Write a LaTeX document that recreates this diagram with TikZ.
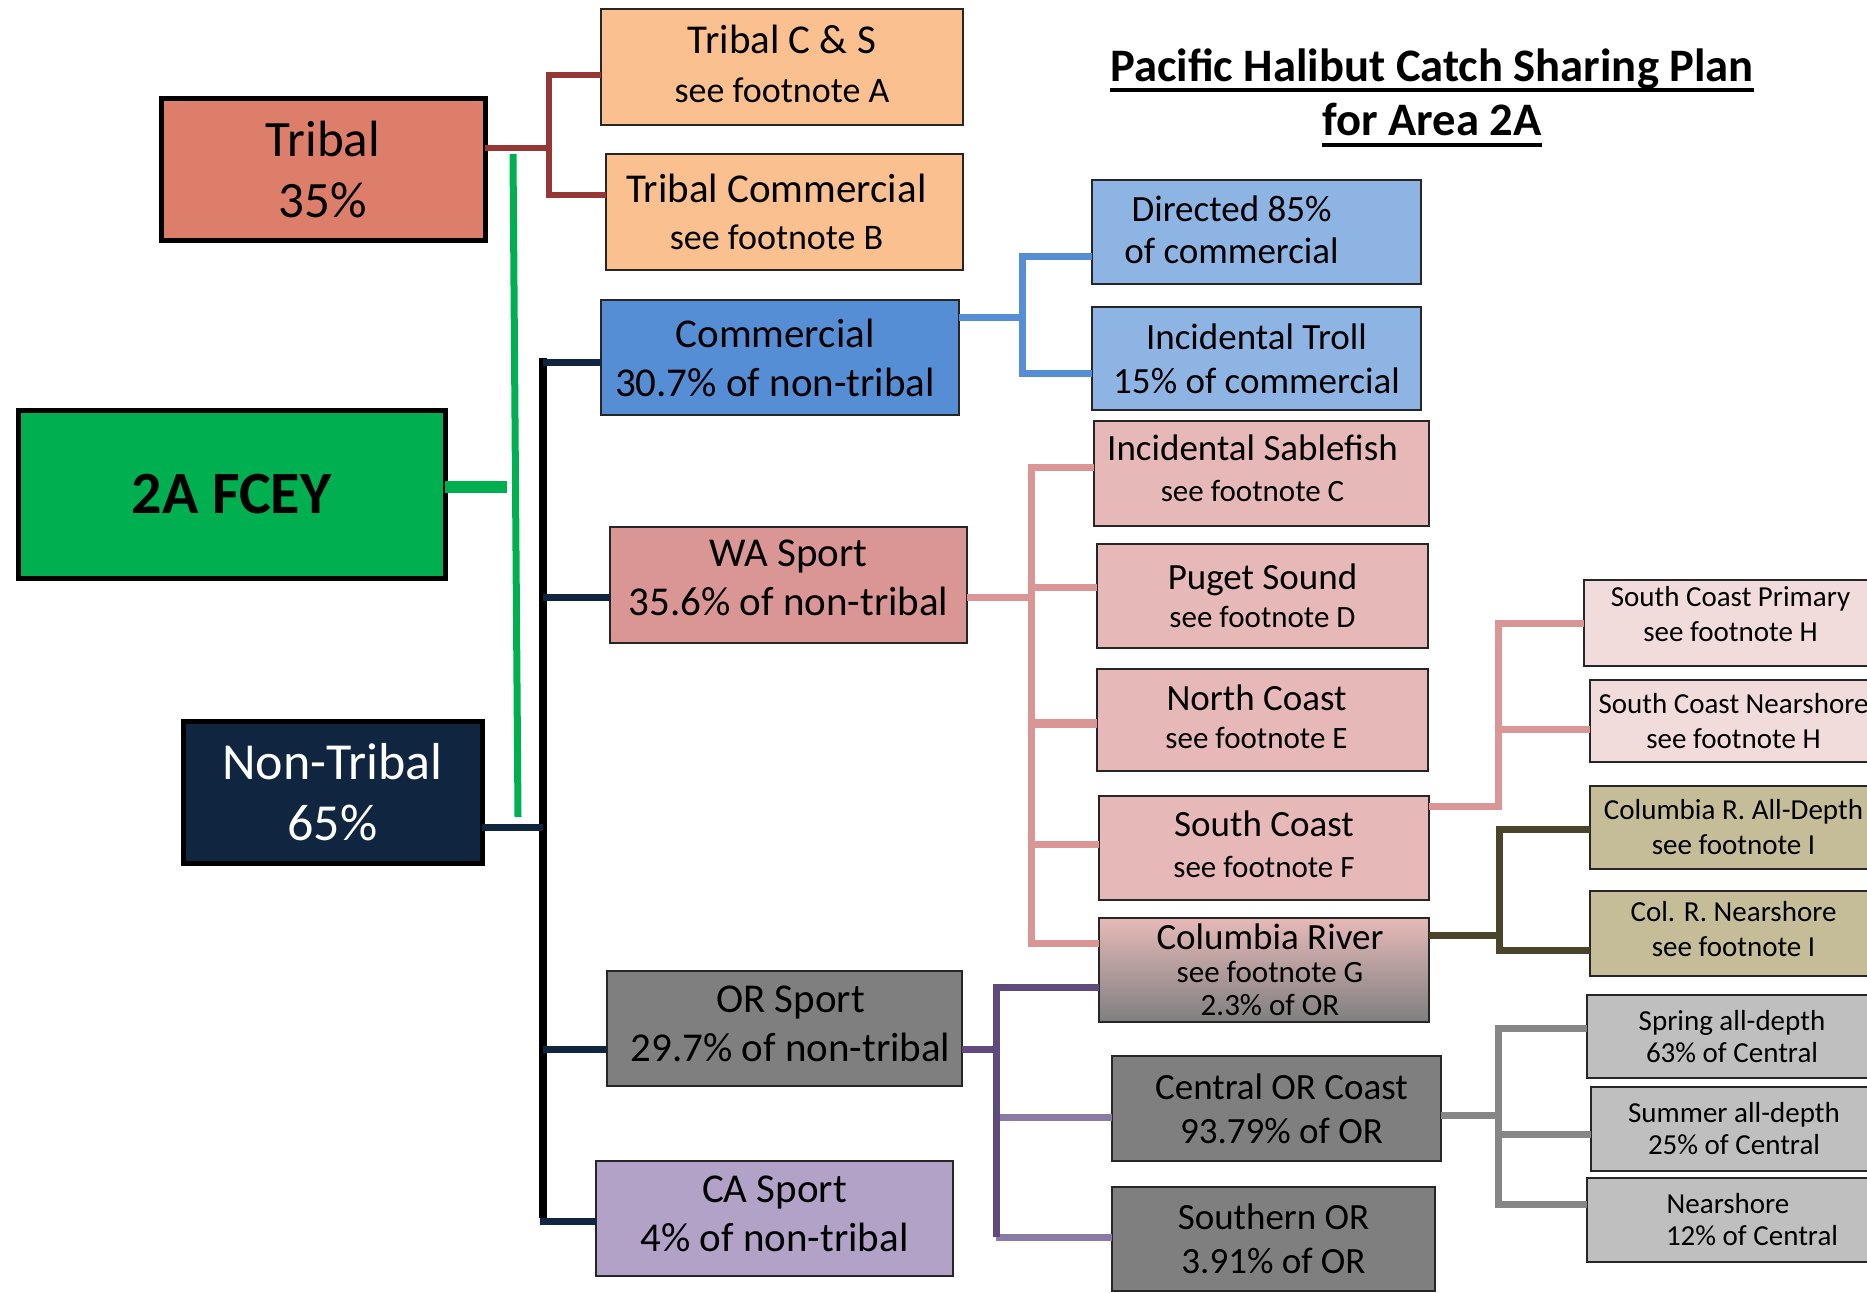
\documentclass[tikz,border=0pt]{standalone}
\usepackage{fontspec}
\setmainfont{Carlito}
\definecolor{tribalc}{HTML}{DC7E6A}
\definecolor{orangel}{HTML}{FAC090}
\definecolor{fceyg}{HTML}{00B050}
\definecolor{navy}{HTML}{10253F}
\definecolor{bluem}{HTML}{558ED5}
\definecolor{bluel}{HTML}{8EB4E3}
\definecolor{pinkm}{HTML}{D99694}
\definecolor{pinkl}{HTML}{E6B9B8}
\definecolor{pinkxl}{HTML}{F2DCDB}
\definecolor{graym}{HTML}{7F7F7F}
\definecolor{grayc}{HTML}{868686}
\definecolor{grayl}{HTML}{BFBFBF}
\definecolor{lav}{HTML}{B3A2C7}
\definecolor{lavl}{HTML}{CCC1DA}
\definecolor{olivel}{HTML}{C4BD97}
\definecolor{olived}{HTML}{4A452A}
\definecolor{darkred}{HTML}{953735}
\definecolor{purpled}{HTML}{604A7B}
\definecolor{purplem}{HTML}{8B7AA5}
\definecolor{boxline}{HTML}{262626}
\newcommand\fsz[2]{\fontsize{#1}{#2}\selectfont}
\newcommand\up[1]{\rule[-#1pt]{0pt}{#1pt}}
\newcommand\hbnode[7]{\node[#1, minimum width={(#5-#3)*0.5pt}, minimum height={(#6-#4)*0.5pt}] (#2) at ({(#3+#5)/2},{(#4+#6)/2}) {#7};}
\begin{document}
\begin{tikzpicture}[x=0.5pt,y=-0.5pt,
  box/.style={draw=boxline,line width=1pt,inner sep=0pt,outer sep=0pt,align=center,text=black},
  thickbox/.style={draw=black,line width=2.5pt,inner sep=0pt,outer sep=0pt,align=center},
  fA/.style={font=\fsz{20.5pt}{24.5pt}},
  fB/.style={font=\fsz{18.5pt}{21pt}},
  fC/.style={font=\fsz{14.5pt}{17.5pt}},
  conn/.style={line width=3.5pt},
  titlef/.style={font=\bfseries\fsz{23.3pt}{28pt},inner sep=0pt,anchor=base}]
\useasboundingbox (0,0) rectangle (1867,1292);

% ---- title
\node[titlef] (title1) at (1432,81) {Pacific Halibut Catch Sharing Plan};
\node[titlef] (title2) at (1432,135) {for Area 2A};
\draw[line width=1.7pt] ([yshift=-4.5pt]title1.base west) -- ([yshift=-4.5pt]title1.base east);
\draw[line width=1.7pt] ([yshift=-5pt]title2.base west) -- ([yshift=-5pt]title2.base east);

% ---- level 1 and 2
\hbnode{thickbox,fill=tribalc,font=\fsz{25.5pt}{30.5pt}}{tribal}{161}{98}{485}{240}{Tribal\\35\%}
\hbnode{thickbox,fill=fceyg,font=\bfseries\fsz{30pt}{36pt}}{fcey}{18}{410}{445}{578}{2A FCEY}
\hbnode{thickbox,fill=navy,text=white,font=\fsz{26pt}{30.5pt}}{nontribal}{183}{721}{482}{863}{Non-Tribal\\65\%}

\hbnode{box,fill=orangel,fA}{tcs}{601}{9}{963}{125}{Tribal C \& S\\{\fsz{18pt}{24.5pt}see footnote A}\up{3.5}}
\hbnode{box,fill=orangel,font=\fsz{20.5pt}{23.5pt}}{tcom}{606}{154}{963}{270}{Tribal Commercial\hspace*{8pt}\\{\fsz{18pt}{23.5pt}see footnote B}\hspace*{8pt}}
\hbnode{box,fill=bluem,fA}{comm}{601}{300}{959}{415}{Commercial\hspace*{5pt}\\30.7\% of non-tribal\hspace*{5pt}}
\hbnode{box,fill=pinkm,fA}{wasport}{610}{527}{967}{643}{WA Sport\\35.6\% of non-tribal\up{7}}
\hbnode{box,fill=graym,fA}{orsport}{607}{971}{962}{1086}{\hspace*{6pt}OR Sport\\\hspace*{6pt}29.7\% of non-tribal\up{5}}
\hbnode{box,fill=lav,fA}{casport}{596}{1161}{953}{1276}{CA Sport\\4\% of non-tribal\up{5}}

% ---- commercial children
\hbnode{box,fill=bluel,fB}{dir}{1092}{180}{1421}{284}{Directed 85\%\hspace*{25pt}\\of commercial\hspace*{25pt}\up{2}}
\hbnode{box,fill=bluel,font=\fsz{18.5pt}{22pt}}{troll}{1092}{307}{1421}{410}{Incidental Troll\\15\% of commercial}

% ---- WA children
\hbnode{box,fill=pinkl,font=\fsz{18.5pt}{20.5pt}}{sable}{1094}{421}{1429}{526}{Incidental Sablefish\hspace*{9pt}\\{\fsz{15.5pt}{20.5pt}see footnote C}\hspace*{9pt}\up{5}}
\hbnode{box,fill=pinkl,font=\fsz{18.5pt}{19pt}}{puget}{1097}{544}{1428}{648}{Puget Sound\\{\fsz{15.5pt}{19pt}see footnote D}}
\hbnode{box,fill=pinkl,font=\fsz{18.5pt}{19pt}}{ncoast}{1097}{669}{1428}{771}{North Coast\hspace*{6pt}\\{\fsz{15.5pt}{19pt}see footnote E}\hspace*{6pt}\up{3.5}}
\hbnode{box,fill=pinkl,font=\fsz{18.5pt}{20.5pt}}{scoast}{1099}{796}{1429}{900}{South Coast\\{\fsz{15.5pt}{20.5pt}see footnote F}\up{3.5}}
\hbnode{box,draw=boxline,top color=pinkl,middle color=lavl,bottom color=graym,font=\fsz{18.5pt}{16.5pt}}{colr}{1099}{918}{1429}{1022}{\hspace*{6pt}Columbia River\\\hspace*{6pt}{\fsz{15.5pt}{16.5pt}see footnote G}\\\hspace*{6pt}{\fsz{15.5pt}{16.5pt}2.3\% of OR}}

% ---- OR children
\hbnode{box,fill=graym,font=\fsz{18.5pt}{22pt}}{central}{1112}{1056}{1441}{1161}{\hspace*{5pt}Central OR Coast\\\hspace*{5pt}93.79\% of OR}
\hbnode{box,fill=graym,font=\fsz{18.5pt}{22pt}}{southern}{1112}{1187}{1435}{1291}{Southern OR\\3.91\% of OR}

% ---- right column
\hbnode{box,fill=pinkxl,fC}{scp}{1584}{580}{1877}{666}{South Coast Primary\\see footnote H\up{9.5}}
\hbnode{box,fill=pinkxl,fC}{scn}{1590}{680}{1877}{762}{South Coast Nearshore\\see footnote H}
\hbnode{box,fill=olivel,fC}{crad}{1590}{786}{1877}{869}{Columbia R. All-Depth\\see footnote I}
\hbnode{box,fill=olivel,fC}{crns}{1590}{891}{1877}{976}{Col. R. Nearshore\\see footnote I\up{5}}
\hbnode{box,fill=grayl,font=\fsz{14.5pt}{16pt}}{spring}{1587}{995}{1877}{1078}{Spring all-depth\\63\% of Central}
\hbnode{box,fill=grayl,font=\fsz{14.5pt}{16pt}}{summer}{1591}{1087}{1877}{1171}{Summer all-depth\\25\% of Central}
\hbnode{box,fill=grayl,font=\fsz{14.5pt}{16pt}}{nearshore}{1587}{1178}{1877}{1262}{Nearshore\hspace*{4pt}\\\hspace*{20pt}12\% of Central}

% ---- junction coordinates
\coordinate (tj) at (549,148); \coordinate (tA) at (549,75); \coordinate (tB) at (549,195);
\coordinate (gtop) at (513,154); \coordinate (gbot) at (518,817); \coordinate (gmid) at (507,487);
\coordinate (nb1) at (543,358); \coordinate (nb2) at (543,1218);
\coordinate (nc) at (543,362); \coordinate (nw) at (543,597); \coordinate (nj) at (543,827);
\coordinate (no) at (543,1049); \coordinate (nca) at (540,1221);
\coordinate (bj) at (1022,317); \coordinate (bA) at (1022,256); \coordinate (bB) at (1022,373);
\coordinate (pj) at (1031,597); \coordinate (pA) at (1031,467); \coordinate (pP) at (1031,587);
\coordinate (pN) at (1031,723); \coordinate (pS) at (1031,844); \coordinate (pE) at (1031,943);
\coordinate (sj) at (1498,806); \coordinate (sA) at (1498,623); \coordinate (sB) at (1498,729);
\coordinate (oj) at (1499,935); \coordinate (oA) at (1499,829); \coordinate (oB) at (1499,950);
\coordinate (uj) at (996,1049); \coordinate (uA) at (996,987); \coordinate (uC) at (996,1117); \coordinate (uB) at (996,1237);
\coordinate (gj) at (1498,1115); \coordinate (gA) at (1498,1028); \coordinate (gS) at (1498,1134); \coordinate (gB) at (1498,1204);

% ---- connectors
\draw[line width=3pt,darkred] (tribal.east |- tj) -- (tj);
\draw[line width=3pt,darkred] (tcs.west |- tA) -- (tA) -- (tB) -- (tcom.west |- tB);

\draw[line width=6pt,fceyg] (fcey.east |- gmid) -- (gmid);
\draw[conn,fceyg] (gtop) -- (gbot);

\draw[line width=4pt,black] (nb1) -- (nb2);
\draw[conn,navy] (nc) -- (comm.west |- nc);
\draw[conn,navy] (nw) -- (wasport.west |- nw);
\draw[conn,navy] (nontribal.east |- nj) -- (nj);
\draw[conn,navy] (no) -- (orsport.west |- no);
\draw[conn,navy] (nca) -- (casport.west |- nca);

\draw[conn,bluem] (comm.east |- bj) -- (bj);
\draw[conn,bluem] (dir.west |- bA) -- (bA) -- (bB) -- (troll.west |- bB);

\draw[conn,pinkm] (wasport.east |- pj) -- (pj);
\draw[conn,pinkm] (sable.west |- pA) -- (pA) -- (pE) -- (colr.west |- pE);
\draw[conn,pinkm] (pP) -- (puget.west |- pP);
\draw[line width=4.5pt,pinkm] (pN) -- (ncoast.west |- pN);
\draw[conn,pinkm] (pS) -- (scoast.west |- pS);

\draw[conn,pinkm] (scoast.east |- sj) -- (sj) -- (sA) -- (scp.west |- sA);
\draw[conn,pinkm] (sB) -- (scn.west |- sB);

\draw[conn,olived] (colr.east |- oj) -- (oj);
\draw[conn,olived] (crad.west |- oA) -- (oA) -- (oB) -- (crns.west |- oB);

\draw[conn,purpled] (orsport.east |- uj) -- (uj);
\draw[conn,purplem] (uC) -- (central.west |- uC);
\draw[conn,purplem] (uB) -- (southern.west |- uB);
\draw[conn,purpled] (colr.west |- uA) -- (uA) -- (uB);

\draw[conn,grayc] (central.east |- gj) -- (gj);
\draw[conn,grayc] (spring.west |- gA) -- (gA) -- (gB) -- (nearshore.west |- gB);
\draw[conn,grayc] (gS) -- (summer.west |- gS);
\end{tikzpicture}
\end{document}
